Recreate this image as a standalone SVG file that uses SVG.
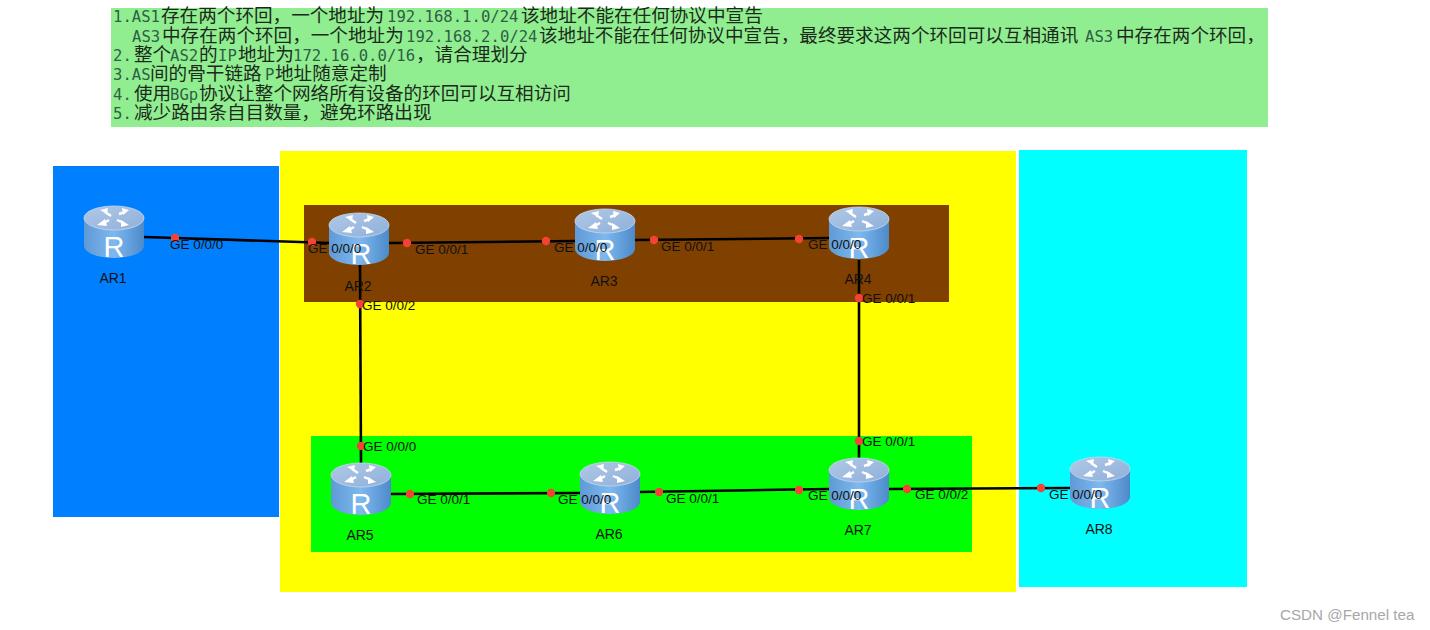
<svg xmlns="http://www.w3.org/2000/svg" width="1430" height="630" viewBox="0 0 1430 630">
<style>
.note{font-family:"Noto Sans CJK SC","DejaVu Sans",sans-serif;font-size:18.6px;fill:#1c2a1c}
.m{font-family:"DejaVu Sans Mono","Liberation Mono",monospace;font-size:15.6px;fill:#2f5f45}
.lb{font-family:"Liberation Sans",Arial,sans-serif;font-size:13.5px;fill:#111}
.nm{font-family:"Liberation Sans",Arial,sans-serif;font-size:14px;fill:#111;text-anchor:middle}
.rr{font-family:"Liberation Sans",Arial,sans-serif;font-size:29px;fill:#fff;text-anchor:middle}
.w{fill:none;stroke:#000;stroke-width:2.6}
.d{fill:#f44336}
.ar{fill:none;stroke:#fff;stroke-width:2.4}
.ah{fill:#fff}
</style>
<defs>
<linearGradient id="body" x1="0" x2="1" y1="0" y2="0"><stop offset="0" stop-color="#5f9ad6"/><stop offset=".5" stop-color="#7db8ee"/><stop offset="1" stop-color="#4d8aca"/></linearGradient>
<linearGradient id="top" x1="0" x2="1" y1="0" y2="1"><stop offset="0" stop-color="#b0c8e6"/><stop offset="1" stop-color="#8fb0da"/></linearGradient>
<g id="router">
<path d="M-30 12V40A30 12 0 0 0 30 40V12Z" fill="url(#body)"/>
<ellipse cx="0" cy="12" rx="30" ry="12" fill="url(#top)" stroke="#c4d8ee" stroke-width=".8"/>
<path class="ar" d="M-3 10L-9 6M5 8L11 6M3 14L10 17M-5 14L-12 18"/>
<path class="ah" d="M-14 4L-6 2L-7 8ZM15 4L8 2L9 9ZM15 19L7 21L7 14ZM-17 19L-9 13L-7 20Z"/>
</g>
</defs>
<rect width="1430" height="630" fill="#fff"/>
<rect x="111" y="8" width="1157" height="119" fill="#90ee90"/>
<g id="zones">
<rect x="53" y="166" width="226" height="351" fill="#0080ff"/>
<rect x="280" y="151" width="736" height="441" fill="#ffff00"/>
<rect x="1019" y="150" width="228" height="437" fill="#00ffff"/>
<rect x="304" y="205" width="645" height="97" fill="#804000"/>
<rect x="311" y="436" width="661" height="116" fill="#00ff00"/>
</g>
<g id="notes">
<text y="21.5" class="note" x="113"><tspan class="m">1.AS1</tspan><tspan x="161">存在两个环回，一个地址为</tspan><tspan class="m" x="387">192.168.1.0/24</tspan><tspan x="521">该地址不能在任何协议中宣告</tspan></text>
<text y="41.5" class="note" x="132"><tspan class="m">AS3</tspan><tspan x="162">中存在两个环回，一个地址为</tspan><tspan class="m" x="406">192.168.2.0/24</tspan><tspan x="539">该地址不能在任何协议中宣告，最终要求这两个环回可以互相通讯</tspan><tspan class="m" x="1085">AS3</tspan><tspan x="1116">中存在两个环回，</tspan></text>
<text y="61" class="note" x="113"><tspan class="m">2.</tspan><tspan x="134">整个</tspan><tspan class="m" x="170">AS2</tspan><tspan x="199">的</tspan><tspan class="m" x="218">IP</tspan><tspan x="238">地址为</tspan><tspan class="m" x="293">172.16.0.0/16</tspan><tspan x="416">，请合理划分</tspan></text>
<text y="80" class="note" x="113"><tspan class="m">3.AS</tspan><tspan x="150">间的骨干链路</tspan><tspan class="m" x="265">P</tspan><tspan x="275">地址随意定制</tspan></text>
<text y="99.5" class="note" x="113"><tspan class="m">4.</tspan><tspan x="134">使用</tspan><tspan class="m" x="170">BGp</tspan><tspan x="199">协议让整个网络所有设备的环回可以互相访问</tspan></text>
<text y="119" class="note" x="113"><tspan class="m">5.</tspan><tspan x="134">减少路由条自目数量，避免环路出现</tspan></text>
</g>
<g id="connectors">
<path class="w" d="M144 237L330 243"/>
<path class="w" d="M388 243L576 241"/>
<path class="w" d="M635 240L830 238"/>
<path class="w" d="M360 265L361 465"/>
<path class="w" d="M859 260V460"/>
<path class="w" d="M390 494L581 493"/>
<path class="w" d="M640 492L830 489"/>
<path class="w" d="M889 489L1071 488"/>
</g>
<g id="AR1"><use href="#router" x="114" y="206"/><text class="rr" x="114" y="257">R</text><text class="nm" x="113" y="283">AR1</text></g>
<g id="AR2"><use href="#router" x="359" y="213"/><text class="rr" x="361" y="264">R</text><text class="nm" x="358" y="291">AR2</text></g>
<g id="AR3"><use href="#router" x="605" y="209"/><text class="rr" x="605" y="260">R</text><text class="nm" x="604" y="286">AR3</text></g>
<g id="AR4"><use href="#router" x="859" y="207"/><text class="rr" x="859" y="258">R</text><text class="nm" x="858" y="284">AR4</text></g>
<g id="AR5"><use href="#router" x="361" y="463"/><text class="rr" x="361" y="514">R</text><text class="nm" x="360" y="540">AR5</text></g>
<g id="AR6"><use href="#router" x="610" y="462"/><text class="rr" x="610" y="513">R</text><text class="nm" x="609" y="539">AR6</text></g>
<g id="AR7"><use href="#router" x="859" y="458"/><text class="rr" x="859" y="509">R</text><text class="nm" x="858" y="535">AR7</text></g>
<g id="AR8"><use href="#router" x="1100" y="457"/><text class="rr" x="1100" y="508">R</text><text class="nm" x="1099" y="534">AR8</text></g>
<g id="interfaces">
<circle class="d" cx="175" cy="238" r="4.2"/><text class="lb" x="170" y="249">GE 0/0/0</text>
<circle class="d" cx="312" cy="242" r="4.2"/><text class="lb" x="308" y="253">GE 0/0/0</text>
<circle class="d" cx="407" cy="243" r="4.2"/><text class="lb" x="415" y="254">GE 0/0/1</text>
<circle class="d" cx="546" cy="241" r="4.2"/><text class="lb" x="554" y="252">GE 0/0/0</text>
<circle class="d" cx="654" cy="240" r="4.2"/><text class="lb" x="661" y="251">GE 0/0/1</text>
<circle class="d" cx="799" cy="239" r="4.2"/><text class="lb" x="808" y="249">GE 0/0/0</text>
<circle class="d" cx="360" cy="304" r="4.2"/><text class="lb" x="362" y="310">GE 0/0/2</text>
<circle class="d" cx="859" cy="298" r="4.2"/><text class="lb" x="862" y="303">GE 0/0/1</text>
<circle class="d" cx="361" cy="446" r="4.2"/><text class="lb" x="363" y="451">GE 0/0/0</text>
<circle class="d" cx="859" cy="441" r="4.2"/><text class="lb" x="862" y="446">GE 0/0/1</text>
<circle class="d" cx="410" cy="494" r="4.2"/><text class="lb" x="417" y="504">GE 0/0/1</text>
<circle class="d" cx="551" cy="493" r="4.2"/><text class="lb" x="558" y="504">GE 0/0/0</text>
<circle class="d" cx="659" cy="492" r="4.2"/><text class="lb" x="666" y="503">GE 0/0/1</text>
<circle class="d" cx="799" cy="490" r="4.2"/><text class="lb" x="808" y="500">GE 0/0/0</text>
<circle class="d" cx="907" cy="489" r="4.2"/><text class="lb" x="915" y="499">GE 0/0/2</text>
<circle class="d" cx="1041" cy="488" r="4.2"/><text class="lb" x="1049" y="499">GE 0/0/0</text>
</g>
<text x="1280" y="620" style="font-family:'Liberation Sans',Arial,sans-serif;font-size:15.2px;fill:#a8a8a8">CSDN @Fennel tea</text>
</svg>
